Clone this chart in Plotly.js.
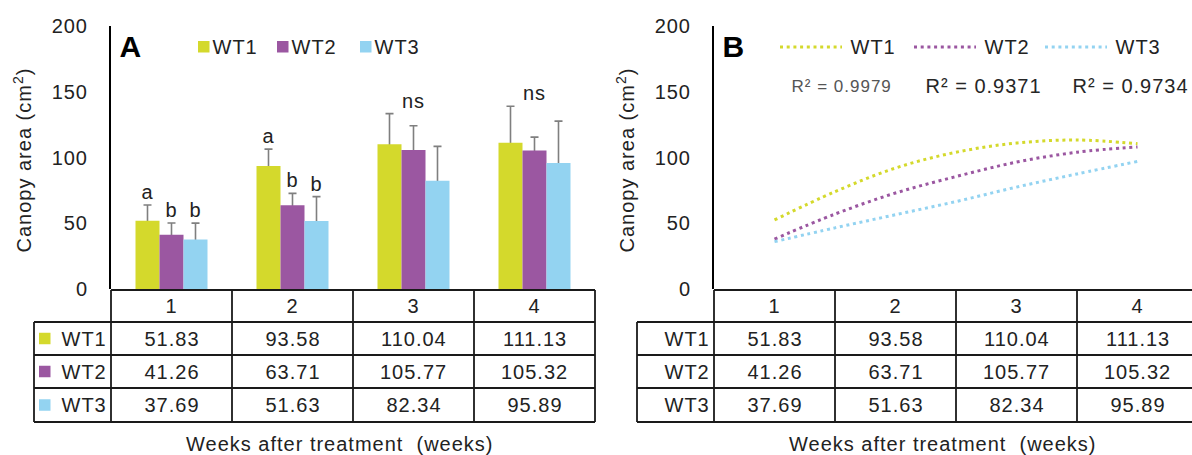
<!DOCTYPE html>
<html><head><meta charset="utf-8">
<script src="https://cdn.plot.ly/plotly-3.0.1.min.js"></script>
<style>
html,body{margin:0;padding:0;background:#fff;}
#chart{width:1192px;height:455px;}
#chart .main-svg text{letter-spacing:1px;}
</style></head><body><div id="chart"></div>
<script>
// ---- data ----
const weeks = [1, 2, 3, 4];
const seriesNames = ['WT1', 'WT2', 'WT3'];
const wt1 = [51.83, 93.58, 110.04, 111.13];
const wt2 = [41.26, 63.71, 105.77, 105.32];
const wt3 = [37.69, 51.63, 82.34, 95.89];
const wt1Err = [12.1, 12.8, 23.3, 27.8];
const wt2Err = [8.9, 9.0, 18.4, 10.2];
const wt3Err = [12.4, 18.6, 26.1, 31.8];
const wt1Letters = ['a', 'a', '', ''];
const wt2Letters = ['b', 'b', '', ''];
const wt3Letters = ['b', 'b', '', ''];
const groupLabels = ['', '', 'ns', 'ns'];
const trendX = [1, 1.5, 2, 2.5, 3, 3.5, 4];
const wt1Trend = [52.5, 74, 92, 104, 111, 113.3, 110.5];
const wt2Trend = [38, 57, 73, 85.5, 96.5, 104, 108];
const wt3Trend = [36, 46.5, 56.5, 66.5, 77.5, 87.5, 97];
const rSquared = ['0.9979', '0.9371', '0.9734'];
const yTicks = [0, 50, 100, 150, 200];
const colors = ['#d4d92c', '#9b57a1', '#93d3f1'];

// ---- layout geometry ----
const W = 1192, H = 455;
const px = x => x / W;
const py = y => 1 - y / H;
const vals = [wt1, wt2, wt3];
const errs = [wt1Err, wt2Err, wt3Err];
const letters = [wt1Letters, wt2Letters, wt3Letters];
const trends = [wt1Trend, wt2Trend, wt3Trend];
const bargap = 0.405;
const colW = 121;
const rowLines = [290, 322, 355, 388, 422];
const rowCenters = [306, 338.5, 371.5, 405];
const txt = '#222';
const FONT = '"Liberation Sans", Arial, sans-serif';
const FS = 20;
const lineCol = '#1a1a1a';

const traces = [];
// error bars carried by transparent bars drawn first, so the real bars hide the lower end
seriesNames.forEach((n, i) => {
  traces.push({
    type: 'bar', name: n + ' err', x: weeks, y: vals[i], xaxis: 'x', yaxis: 'y', offsetgroup: 'g' + i,
    marker: {color: 'rgba(0,0,0,0)'}, showlegend: false, hoverinfo: 'skip',
    error_y: {type: 'data', symmetric: false, array: errs[i], arrayminus: weeks.map(() => 2),
              color: '#7f7f7f', thickness: 1.6, width: 4}
  });
});
seriesNames.forEach((n, i) => {
  traces.push({
    type: 'bar', name: n, x: weeks, y: vals[i], xaxis: 'x', yaxis: 'y', offsetgroup: 'g' + i,
    marker: {color: colors[i]}, showlegend: false
  });
});
seriesNames.forEach((n, i) => {
  traces.push({
    type: 'scatter', mode: 'lines', name: n, x: trendX, y: trends[i], xaxis: 'x2', yaxis: 'y2',
    line: {color: colors[i], width: 3, dash: '3px,3.7px', shape: 'spline', smoothing: 1},
    showlegend: false
  });
});

const shapes = [];
const annotations = [];
function hline(x0, x1, y, w) {
  shapes.push({type: 'line', xref: 'paper', yref: 'paper', x0: px(x0), x1: px(x1), y0: py(y), y1: py(y),
               line: {color: lineCol, width: w || 1.8}});
}
function vline(x, y0, y1, w) {
  shapes.push({type: 'line', xref: 'paper', yref: 'paper', x0: px(x), x1: px(x), y0: py(y0), y1: py(y1),
               line: {color: lineCol, width: w || 1.8}});
}
function ann(o) {
  annotations.push(Object.assign({showarrow: false, xanchor: 'center', yanchor: 'middle',
                                  font: {family: FONT, size: FS, color: txt}}, o));
}

function panel(xr, axisPx, labelLeft, rightPx, withSquares) {
  hline(axisPx, rightPx, rowLines[0], 2);
  for (let r = 1; r < rowLines.length; r++) hline(labelLeft, rightPx, rowLines[r]);
  for (let k = 0; k <= weeks.length; k++) vline(axisPx + k * colW, rowLines[0], rowLines[4]);
  vline(labelLeft, rowLines[1], rowLines[4]);
  weeks.forEach(w => ann({xref: xr, yref: 'paper', x: w, y: py(rowCenters[0]), text: String(w)}));
  seriesNames.forEach((n, i) => {
    weeks.forEach((w, j) => ann({xref: xr, yref: 'paper', x: w, y: py(rowCenters[i + 1]),
      text: vals[i][j].toFixed(2)}));
    ann({xref: 'paper', yref: 'paper', x: px(axisPx - 4), xanchor: 'right', y: py(rowCenters[i + 1]), text: n});
    if (withSquares) {
      const c = rowCenters[i + 1];
      shapes.push({type: 'rect', xref: 'paper', yref: 'paper', x0: px(labelLeft + 5), x1: px(labelLeft + 16.5),
                   y0: py(c - 5.75), y1: py(c + 5.75), fillcolor: colors[i], line: {width: 0}});
    }
  });
  ann({xref: 'paper', yref: 'paper', x: px(axisPx + 229), y: py(444), text: 'Weeks after treatment  (weeks)'});
  ann({xref: 'paper', yref: 'paper', x: px(axisPx - 89), y: py(160), textangle: -90, text: 'Canopy area (cm<sup>2</sup>)'});
}
panel('x', 111, 34, 595, true);
panel('x2', 714, 637, 1199, false);

// panel letters
ann({xref: 'paper', yref: 'paper', x: px(131), y: py(47), text: '<b>A</b>', font: {family: FONT, size: 30, color: '#000'}});
ann({xref: 'paper', yref: 'paper', x: px(734), y: py(47), text: '<b>B</b>', font: {family: FONT, size: 30, color: '#000'}});

// legend A (squares)
const legA = [198, 277, 360];
seriesNames.forEach((n, i) => {
  shapes.push({type: 'rect', xref: 'paper', yref: 'paper', x0: px(legA[i]), x1: px(legA[i] + 11.5),
               y0: py(52.5), y1: py(41), fillcolor: colors[i], line: {width: 0}});
  ann({xref: 'paper', yref: 'paper', x: px(legA[i] + 14), xanchor: 'left', y: py(47), text: n});
});
// legend B (dotted samples)
const legB = [780, 914, 1045];
seriesNames.forEach((n, i) => {
  shapes.push({type: 'line', xref: 'paper', yref: 'paper', x0: px(legB[i]), x1: px(legB[i] + 62),
               y0: py(47), y1: py(47), line: {color: colors[i], width: 3, dash: '3px,3.7px'}});
  ann({xref: 'paper', yref: 'paper', x: px(legB[i] + 70), xanchor: 'left', y: py(47), text: n});
});
// R² labels
const rX = [841.5, 983.5, 1130.5];
rSquared.forEach((r, i) => {
  ann({xref: 'paper', yref: 'paper', x: px(rX[i]), y: py(86), text: 'R² = ' + r,
       font: {family: FONT, size: i === 0 ? 17 : 20, color: i === 0 ? '#555' : '#262626'}});
});

// significance letters
const bw = (1 - bargap) / seriesNames.length;
seriesNames.forEach((n, i) => {
  weeks.forEach((w, j) => {
    if (letters[i][j]) ann({xref: 'x', yref: 'y', x: w + (i - 1) * bw, y: vals[i][j] + errs[i][j],
                            yanchor: 'bottom', text: letters[i][j]});
  });
});
weeks.forEach((w, j) => {
  if (groupLabels[j]) {
    const top = Math.max(...vals.map((v, i) => v[j] + errs[i][j]));
    ann({xref: 'x', yref: 'y', x: w, y: top, yanchor: 'bottom', text: groupLabels[j]});
  }
});

const yDom = [py(289), py(26)];
const yAx = {domain: yDom, range: [0, 200], tickvals: yTicks, showgrid: false, zeroline: false,
             showline: true, linecolor: '#000', linewidth: 2, ticks: '', ticklabelstandoff: 17,
             tickfont: {family: FONT, size: FS, color: txt}, fixedrange: true};
const layout = {
  width: W, height: H, margin: {l: 0, r: 0, t: 0, b: 0},
  paper_bgcolor: '#fff', plot_bgcolor: '#fff', showlegend: false,
  barmode: 'group', bargap: bargap, bargroupgap: 0,
  font: {family: FONT, size: FS, color: txt},
  xaxis: {domain: [px(111), px(111 + 4 * colW)], range: [0.5, 4.5], visible: false, fixedrange: true},
  yaxis: Object.assign({anchor: 'x'}, yAx),
  xaxis2: {domain: [px(714), 1], range: [0.5, 0.5 + (W - 714) / colW], visible: false, fixedrange: true},
  yaxis2: Object.assign({anchor: 'x2'}, yAx),
  shapes: shapes, annotations: annotations
};
Plotly.newPlot('chart', traces, layout, {displayModeBar: false, staticPlot: true});
</script></body></html>
